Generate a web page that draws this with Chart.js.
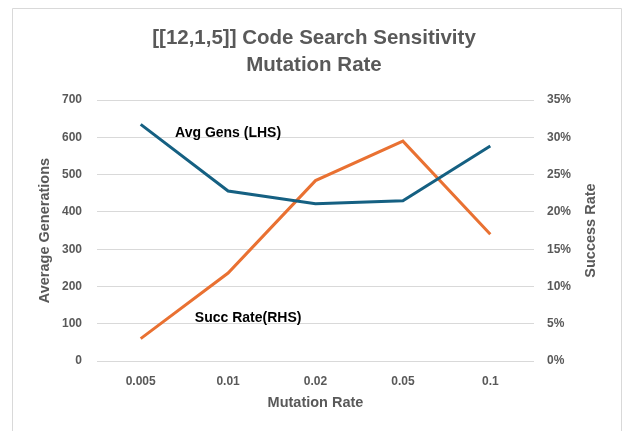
<!DOCTYPE html>
<html>
<head>
<meta charset="utf-8">
<script src="https://cdn.jsdelivr.net/npm/chart.js@4"></script>
<style>
  html, body { margin: 0; padding: 0; background: #fff; }
  #wrap { position: relative; width: 628px; height: 431px; }
</style>
</head>
<body>
<div id="wrap"><canvas id="mutChart" width="628" height="431"></canvas></div>
<script>
// --- data ---
const rates = ['0.005', '0.01', '0.02', '0.05', '0.1'];
const avgGens = [635, 456, 422, 430, 577];
const succRate = [0.030, 0.118, 0.242, 0.295, 0.170];
const gensTicks = [0, 100, 200, 300, 400, 500, 600, 700];
const rateTicks = [0, 0.05, 0.10, 0.15, 0.20, 0.25, 0.30, 0.35];

const grey = '#595959';
const sans = "'Liberation Sans', Arial, sans-serif";
const tickFont = { family: sans, size: 12, weight: 'bold' };

// frame, right axis title and the two series notes
const extras = {
  id: 'extras',
  afterDraw(chart) {
    const ctx = chart.ctx;
    const { x, y, y1 } = chart.scales;
    ctx.save();
    ctx.strokeStyle = '#d9d9d9';
    ctx.lineWidth = 1;
    ctx.beginPath();
    ctx.moveTo(12.5, 431);
    ctx.lineTo(12.5, 8.5);
    ctx.lineTo(621.5, 8.5);
    ctx.lineTo(621.5, 431);
    ctx.stroke();

    // right axis title, reads bottom to top
    ctx.fillStyle = grey;
    ctx.font = 'bold 14.5px ' + sans;
    ctx.textAlign = 'center';
    ctx.textBaseline = 'middle';
    ctx.translate(591, (chart.chartArea.top + chart.chartArea.bottom) / 2);
    ctx.rotate(-Math.PI / 2);
    ctx.fillText('Success Rate', 0, 0);
    ctx.setTransform(1, 0, 0, 1, 0, 0);

    // series notes
    ctx.fillStyle = '#000';
    ctx.font = 'bold 14px ' + sans;
    ctx.fillText('Avg Gens (LHS)', x.getPixelForValue(1), y.getPixelForValue(612));
    ctx.fillText('Succ Rate(RHS)', x.getPixelForValue(1) + 20, y1.getPixelForValue(0.057));
    ctx.restore();
  }
};

new Chart(document.getElementById('mutChart'), {
  type: 'line',
  data: {
    labels: rates,
    datasets: [{
      label: 'Avg Gens (LHS)',
      data: avgGens,
      yAxisID: 'y',
      borderColor: '#156082',
      borderWidth: 3,
      pointRadius: 0,
      tension: 0
    }, {
      label: 'Succ Rate(RHS)',
      data: succRate,
      yAxisID: 'y1',
      borderColor: '#e97132',
      borderWidth: 3,
      pointRadius: 0,
      tension: 0
    }]
  },
  options: {
    responsive: false,
    animation: false,
    layout: { padding: 0 },
    plugins: {
      legend: { display: false },
      tooltip: { enabled: false },
      title: {
        display: true,
        text: ['[[12,1,5]] Code Search Sensitivity', 'Mutation Rate'],
        color: grey,
        font: { family: sans, size: 20.5, weight: 'bold', lineHeight: 1.32 },
        padding: { top: 25, bottom: 21 }
      }
    },
    scales: {
      x: {
        offset: true,
        grid: { display: false },
        border: { display: false },
        ticks: { color: grey, font: tickFont, padding: 5 },
        title: {
          display: true,
          text: 'Mutation Rate',
          color: grey,
          font: { family: sans, size: 14.5, weight: 'bold' },
          padding: { top: 0, bottom: 19 }
        },
        afterFit(s) { s.height = 70; }
      },
      y: {
        position: 'left',
        min: 0,
        max: 700,
        grid: { color: '#d9d9d9', drawTicks: false },
        border: { display: false },
        afterBuildTicks(s) { s.ticks = gensTicks.map(v => ({ value: v })); },
        ticks: { color: grey, font: tickFont, padding: 15 },
        title: {
          display: true,
          text: 'Average Generations',
          color: grey,
          font: { family: sans, size: 14.5, weight: 'bold' },
          padding: { top: 36, bottom: 0 }
        },
        afterFit(s) { s.width = 97; }
      },
      y1: {
        position: 'right',
        min: 0,
        max: 0.35,
        grid: { display: false, drawTicks: false },
        border: { display: false },
        afterBuildTicks(s) { s.ticks = rateTicks.map(v => ({ value: v })); },
        ticks: {
          color: grey,
          font: tickFont,
          padding: 13,
          callback: v => Math.round(v * 100) + '%'
        },
        afterFit(s) { s.width = 94; }
      }
    }
  },
  plugins: [extras]
});
</script>
</body>
</html>
